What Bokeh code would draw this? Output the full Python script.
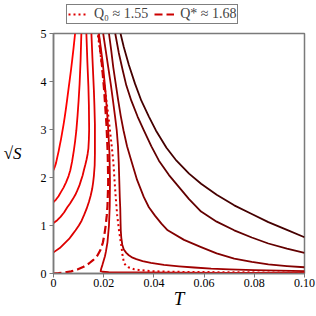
from bokeh.plotting import figure
from bokeh.layouts import column
from bokeh.models import Legend, LegendItem, Range1d
from bokeh.embed import file_html
from bokeh.resources import INLINE

# ---- data (T, sqrt(S)) ----
T_L1 = [0, 0.0005, 0.001, 0.0015, 0.0021, 0.0025, 0.003, 0.0035, 0.004, 0.0045, 0.005, 0.0055, 0.006, 0.0065, 0.007, 0.0075, 0.008, 0.0086]
S_L1 = [2.15, 2.22, 2.3, 2.42, 2.56, 2.67, 2.8, 2.95, 3.1, 3.27, 3.45, 3.65, 3.85, 4.05, 4.25, 4.47, 4.7, 5.0]

T_L2 = [0, 0.001, 0.002, 0.003, 0.004, 0.005, 0.006, 0.0067, 0.0074, 0.0081, 0.0086, 0.0091, 0.0096, 0.01, 0.0104, 0.0108, 0.0111]
S_L2 = [1.49, 1.54, 1.61, 1.7, 1.79, 1.9, 2.03, 2.15, 2.33, 2.56, 2.75, 2.98, 3.3, 3.6, 3.95, 4.45, 5.0]

T_L3 = [0, 0.0015, 0.0028, 0.0042, 0.0055, 0.0066, 0.0077, 0.0087, 0.0095, 0.0103, 0.0109, 0.0116, 0.0121, 0.0127, 0.0132, 0.0136, 0.0139, 0.0141, 0.0142, 0.0141, 0.0139, 0.0135, 0.0131]
S_L3 = [1.05, 1.11, 1.18, 1.27, 1.38, 1.46, 1.55, 1.64, 1.73, 1.83, 1.93, 2.04, 2.15, 2.27, 2.38, 2.49, 2.6, 2.8, 3.0, 3.5, 3.9, 4.4, 5.0]

T_L4 = [0, 0.0025, 0.0048, 0.0062, 0.0075, 0.0088, 0.0101, 0.0112, 0.0122, 0.0132, 0.0141, 0.0148, 0.0154, 0.0158, 0.0161, 0.0164, 0.0165, 0.0165, 0.0163, 0.0161, 0.0158, 0.0155, 0.0151]
S_L4 = [0.44, 0.53, 0.65, 0.72, 0.81, 0.9, 1.0, 1.1, 1.22, 1.35, 1.49, 1.62, 1.76, 1.9, 2.04, 2.25, 2.5, 3.1, 3.5, 3.8, 4.15, 4.5, 5.0]

T_QSTAR = [0, 0.002, 0.004, 0.007, 0.0095, 0.012, 0.0141, 0.016, 0.0175, 0.0188, 0.0197, 0.0203, 0.0208, 0.0212, 0.0215, 0.0218, 0.0216, 0.0211, 0.0202, 0.0192, 0.0179]
S_QSTAR = [0, 0.006, 0.02, 0.045, 0.083, 0.14, 0.208, 0.29, 0.375, 0.5, 0.65, 0.82, 1.0, 1.2, 1.4, 1.9, 2.5, 3.1, 3.8, 4.4, 5.0]

T_M = [0.1, 0.07, 0.05, 0.035, 0.027, 0.022, 0.0195, 0.0188, 0.019, 0.0195, 0.02, 0.0205, 0.0209, 0.0215, 0.0221, 0.0224, 0.0225, 0.0223, 0.0217, 0.0207, 0.0196, 0.0181]
S_M = [0.012, 0.014, 0.017, 0.021, 0.025, 0.03, 0.036, 0.05, 0.1, 0.18, 0.27, 0.36, 0.46, 0.65, 1.0, 1.4, 1.9, 2.5, 3.1, 3.8, 4.4, 5.0]

T_Q0 = [0.1, 0.085, 0.07, 0.06, 0.05, 0.044, 0.04, 0.037, 0.034, 0.032, 0.031, 0.0298, 0.029, 0.0285, 0.0281, 0.0278, 0.0275, 0.0271, 0.0266, 0.0261, 0.0254, 0.0248, 0.0243, 0.0239, 0.0232, 0.0225, 0.0218, 0.0211, 0.0203, 0.0195, 0.0186, 0.0176]
S_Q0 = [0.02, 0.022, 0.026, 0.03, 0.034, 0.04, 0.047, 0.058, 0.075, 0.09, 0.11, 0.13, 0.16, 0.19, 0.22, 0.3, 0.38, 0.55, 0.72, 0.9, 1.2, 1.58, 1.95, 2.29, 2.65, 2.98, 3.3, 3.6, 3.92, 4.25, 4.62, 5.0]

T_R1 = [0.0198, 0.0208, 0.0218, 0.0228, 0.0237, 0.0245, 0.0252, 0.0257, 0.026, 0.0262, 0.0264, 0.0266, 0.0267, 0.0268, 0.027, 0.0274, 0.028, 0.029, 0.03, 0.0315, 0.033, 0.0355, 0.0388, 0.044, 0.05, 0.056, 0.0628, 0.07, 0.08, 0.09, 0.1]
S_R1 = [5.0, 4.65, 4.3, 3.95, 3.6, 3.28, 2.98, 2.65, 2.3, 1.95, 1.6, 1.35, 1.1, 0.9, 0.75, 0.6, 0.5, 0.43, 0.38, 0.33, 0.3, 0.26, 0.22, 0.18, 0.15, 0.125, 0.1, 0.085, 0.07, 0.06, 0.05]

T_R2 = [0.0221, 0.023, 0.0238, 0.0248, 0.0258, 0.0268, 0.0279, 0.0293, 0.031, 0.0333, 0.036, 0.038, 0.0405, 0.043, 0.0455, 0.052, 0.0588, 0.065, 0.072, 0.079, 0.0856, 0.093, 0.1]
S_R2 = [5.0, 4.65, 4.3, 3.95, 3.6, 3.28, 2.98, 2.65, 2.35, 1.95, 1.59, 1.38, 1.2, 1.04, 0.9, 0.7, 0.55, 0.42, 0.31, 0.24, 0.19, 0.155, 0.13]

T_R3 = [0.0246, 0.026, 0.0275, 0.029, 0.031, 0.0335, 0.036, 0.039, 0.042, 0.046, 0.05, 0.054, 0.0588, 0.065, 0.072, 0.079, 0.0856, 0.093, 0.1]
S_R3 = [5.0, 4.6, 4.25, 3.92, 3.6, 3.27, 2.98, 2.65, 2.35, 2.05, 1.8, 1.55, 1.29, 1.08, 0.9, 0.75, 0.625, 0.52, 0.43]

T_R4 = [0.0267, 0.028, 0.03, 0.0325, 0.035, 0.038, 0.0408, 0.045, 0.049, 0.054, 0.0588, 0.065, 0.072, 0.079, 0.0856, 0.093, 0.1]
S_R4 = [5.0, 4.72, 4.35, 3.95, 3.6, 3.27, 2.98, 2.62, 2.35, 2.08, 1.87, 1.64, 1.42, 1.24, 1.07, 0.91, 0.756]

X_TICKS = [0, 0.02, 0.04, 0.06, 0.08, 0.1]
X_TICK_LABELS = ["0", "0.02", "0.04", "0.06", "0.08", "0.10"]
Y_TICKS = [0, 1, 2, 3, 4, 5]

X_LABEL = "T"
Y_LABEL = "\u221aS"
LEG_Q0 = "Q\u2080 \u2248 1.55"
LEG_QSTAR = "Q* \u2248 1.68"

SERIF = "Liberation Serif"
AXIS_GRAY = "#7a7a7a"
Q0_STYLE = dict(line_color="#dd0000", line_width=2, line_dash="2 3")
QS_STYLE = dict(line_color="#cc0000", line_width=2.2, line_dash="8 4")

# ---- main plot ----
p = figure(width=316, height=291, output_backend="svg", toolbar_location=None,
           x_range=Range1d(0, 0.1), y_range=Range1d(0, 5),
           min_border_left=53, min_border_right=12, min_border_top=8, min_border_bottom=43)
p.xgrid.visible = False
p.ygrid.visible = False
p.background_fill_color = "white"
p.border_fill_color = "white"
p.outline_line_color = AXIS_GRAY
p.outline_line_width = 1.5

solid = [
    (T_L1, S_L1, "#ff0000"),
    (T_L2, S_L2, "#f20000"),
    (T_L3, S_L3, "#e60000"),
    (T_L4, S_L4, "#dd0000"),
    (T_M, S_M, "#c00000"),
    (T_R1, S_R1, "#a00000"),
    (T_R2, S_R2, "#820000"),
    (T_R3, S_R3, "#620000"),
    (T_R4, S_R4, "#450000"),
]
for tx, sy, c in solid:
    p.line(tx, sy, line_color=c, line_width=1.8, line_join="round")

r_q0 = p.line(T_Q0, S_Q0, **Q0_STYLE)
r_qs = p.line(T_QSTAR, S_QSTAR, **QS_STYLE)

for ax in (p.xaxis, p.yaxis):
    ax.axis_line_color = AXIS_GRAY
    ax.axis_line_width = 1.5
    ax.major_tick_line_color = AXIS_GRAY
    ax.minor_tick_line_color = AXIS_GRAY
    ax.major_tick_in = 0
    ax.major_tick_out = 4
    ax.minor_tick_in = 0
    ax.minor_tick_out = 3
    ax.major_label_text_font = SERIF
    ax.major_label_text_font_size = "12px"
    ax.major_label_text_color = "black"
    ax.axis_label_text_font = SERIF
    ax.axis_label_text_font_style = "italic"
    ax.axis_label_text_color = "black"

p.xaxis.ticker = X_TICKS
p.xaxis.major_label_overrides = {t: l for t, l in zip(X_TICKS, X_TICK_LABELS)}
p.xaxis.ticker.num_minor_ticks = 2
p.xaxis.major_label_standoff = 1
p.xaxis.axis_label = X_LABEL
p.xaxis.axis_label_text_font_size = "19px"
p.xaxis.axis_label_standoff = -2

p.yaxis.ticker = Y_TICKS
p.yaxis.ticker.num_minor_ticks = 2
p.yaxis.major_label_standoff = 3
p.yaxis.axis_label = Y_LABEL
p.yaxis.axis_label_text_font_size = "17px"
p.yaxis.axis_label_standoff = 16
try:
    p.yaxis.axis_label_orientation = "horizontal"
except Exception:
    pass

# ---- legend strip above the plot ----
lg = figure(width=316, height=25, output_backend="svg", toolbar_location=None,
            x_range=Range1d(0, 1), y_range=Range1d(0, 1),
            min_border_left=0, min_border_right=0, min_border_top=0, min_border_bottom=0)
lg.xaxis.visible = False
lg.yaxis.visible = False
lg.xgrid.visible = False
lg.ygrid.visible = False
lg.outline_line_color = None
lg.background_fill_color = "white"
lg.border_fill_color = "white"
# legend-only stand-ins, placed outside the visible range of this strip
d_q0 = lg.line([2, 3], [2, 3], **Q0_STYLE)
d_qs = lg.line([2, 3], [2, 3], **QS_STYLE)
legend = Legend(items=[LegendItem(label=LEG_Q0, renderers=[d_q0]),
                       LegendItem(label=LEG_QSTAR, renderers=[d_qs])],
                orientation="horizontal", location=(13, 1),
                label_text_font=SERIF, label_text_font_size="14px",
                glyph_width=20, glyph_height=14, label_standoff=6, spacing=6,
                padding=1, margin=0, border_line_color="black", border_line_width=1,
                background_fill_alpha=1.0)
lg.add_layout(legend, "center")

layout = column(lg, p, spacing=0)
open("out.html", "w").write(file_html(layout, INLINE))
